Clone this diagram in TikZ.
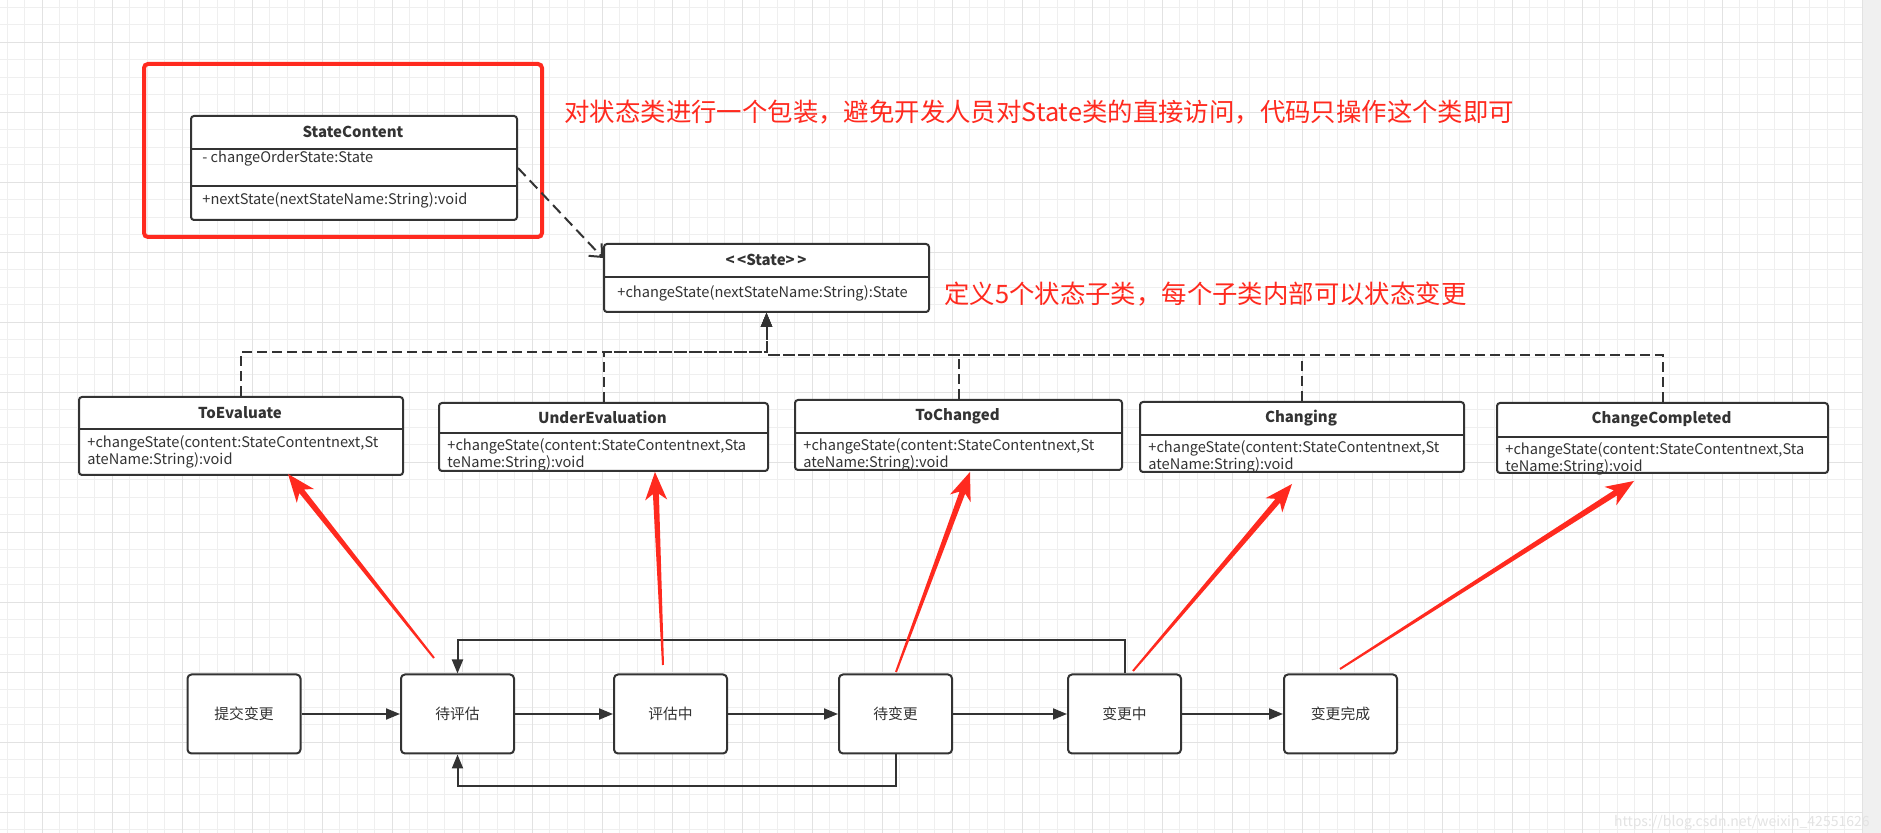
\documentclass[tikz,border=0pt]{standalone}
\usepackage{fontspec}
\setmainfont{Noto Sans CJK SC}
\usetikzlibrary{arrows.meta,calc}
\definecolor{inkgray}{HTML}{333333}
\definecolor{markred}{HTML}{FF2A1F}
\definecolor{gridminor}{HTML}{EFEFEF}
\definecolor{gridmajor}{HTML}{E2E2E2}
\definecolor{edgegray}{HTML}{F0F0F0}
\tikzset{
  classbox/.style={draw=inkgray, line width=1pt, rounded corners=1.5pt, fill=white, inner sep=0pt, anchor=north west},
  classname/.style={font=\fontsize{7.5}{9}\selectfont\bfseries, text=inkgray, inner sep=0pt},
  member/.style={font=\fontsize{7.3}{8.6}\selectfont, text=inkgray, inner sep=0pt, anchor=north west, align=left},
  rule/.style={draw=inkgray, line width=1pt},
  statebox/.style={draw=inkgray, line width=1pt, rounded corners=2pt, fill=white, minimum width=56.5pt, minimum height=39.5pt, inner sep=0pt, font=\fontsize{7.4}{9}\selectfont, text=inkgray},
  flow/.style={draw=inkgray, line width=1pt, -{Triangle[length=7pt,width=5.5pt]}},
  realize/.style={draw=inkgray, line width=1pt, dash pattern=on 5pt off 2.5pt, -{Triangle[length=7pt,width=5.5pt]}},
  depend/.style={draw=inkgray, line width=1pt, dash pattern=on 5.5pt off 3pt, -{Straight Barb[length=5pt,width=9pt]}},
  note/.style={font=\fontsize{12.7}{15}\selectfont, text=markred, inner sep=0pt, anchor=west},
}
% tapered red pointer from #1 (tail) to #2 (tip)
\newcommand\hintarrow[2]{%
  \coordinate (hN) at ($(#2)!11pt!(#1)$);
  \coordinate (hB) at ($(#2)!14pt!(#1)$);
  \fill[markred] ($(#1)!0.5pt!90:(#2)$) -- ($(hN)!1.5pt!90:(#2)$) -- ($(hB)!5.5pt!90:(#2)$)
    -- (#2) -- ($(hB)!5.5pt!-90:(#2)$) -- ($(hN)!1.5pt!-90:(#2)$) -- ($(#1)!0.5pt!-90:(#2)$) -- cycle;
}
\begin{document}
\begin{tikzpicture}[x=0.5pt,y=-0.5pt]
\useasboundingbox (0,0) rectangle (1881,833);
\fill[white] (0,0) rectangle (1862,833);
\fill[edgegray] (1862,0) rectangle (1881,833);
\foreach \i in {0,...,106} \draw[gridminor, line width=0.5pt] ({7.3+17.5*\i},0) -- ({7.3+17.5*\i},833);
\foreach \i in {0,...,47} \draw[gridminor, line width=0.5pt] (0,{7.3+17.5*\i}) -- (1862,{7.3+17.5*\i});
\foreach \i in {0,...,26} \draw[gridmajor, line width=0.6pt] ({42.3+70*\i},0) -- ({42.3+70*\i},833);
\foreach \i in {0,...,11} \draw[gridmajor, line width=0.6pt] (0,{42.3+70*\i}) -- (1862,{42.3+70*\i});

% wrapper class
\draw[markred, line width=2pt, rounded corners=2pt] (144,64) rectangle (542,237);
\node[classbox, minimum width=163pt, minimum height=52pt] (stcontent) at (190,115) {};
\node[classname] (stcontentT) at (353,132) {StateContent};
\draw[rule] ($(stcontent.north west)+(0,34)$) -- ($(stcontent.north east)+(0,34)$);
\draw[rule] ($(stcontent.north west)+(0,71)$) -- ($(stcontent.north east)+(0,71)$);
\node[member] (stcontentA) at (202,150) {- changeOrderState:State};
\node[member] (stcontentM) at (202,192) {+nextState(nextStateName:String):void};

\node[classbox, minimum width=162.5pt, minimum height=34pt] (state) at (603,243) {};
\node[classname] (stateT) at (766,260) {<\,<State>\,>};
\draw[rule] ($(state.north west)+(0,34)$) -- ($(state.north east)+(0,34)$);
\node[member] (stateM) at (617,285) {+changeState(nextStateName:String):State};

\node[note] (note1) at (564,112) {对状态类进行一个包装，避免开发人员对State类的直接访问，代码只操作这个类即可};
\node[note] (note2) at (944,294) {定义5个状态子类，每个子类内部可以状态变更};

% subclasses
\node[classbox, minimum width=162pt, minimum height=39pt] (toeval) at (78,396) {};
\node[classname] (toevalT) at (240,413) {ToEvaluate};
\draw[rule] ($(toeval.north west)+(0,33)$) -- ($(toeval.north east)+(0,33)$);
\node[member] (toevalM) at (87,435) {+changeState(content:StateContentnext,St\\ateName:String):void};

\node[classbox, minimum width=164.5pt, minimum height=34pt] (undereval) at (438,402) {};
\node[classname] (underevalT) at (602.5,417) {UnderEvaluation};
\draw[rule] ($(undereval.north west)+(0,31)$) -- ($(undereval.north east)+(0,31)$);
\node[member] (underevalM) at (447,438) {+changeState(content:StateContentnext,Sta\\teName:String):void};

\node[classbox, minimum width=163.5pt, minimum height=35pt] (tochanged) at (794,399) {};
\node[classname] (tochangedT) at (957.5,416) {ToChanged};
\draw[rule] ($(tochanged.north west)+(0,34)$) -- ($(tochanged.north east)+(0,34)$);
\node[member] (tochangedM) at (803,438) {+changeState(content:StateContentnext,St\\ateName:String):void};

\node[classbox, minimum width=162pt, minimum height=35pt] (changing) at (1139,401) {};
\node[classname] (changingT) at (1301,418) {Changing};
\draw[rule] ($(changing.north west)+(0,34)$) -- ($(changing.north east)+(0,34)$);
\node[member] (changingM) at (1148,440) {+changeState(content:StateContentnext,St\\ateName:String):void};

\node[classbox, minimum width=165.5pt, minimum height=35pt] (completed) at (1496,402) {};
\node[classname] (completedT) at (1661.5,419) {ChangeCompleted};
\draw[rule] ($(completed.north west)+(0,35)$) -- ($(completed.north east)+(0,35)$);
\node[member] (completedM) at (1505,442) {+changeState(content:StateContentnext,Sta\\teName:String):void};

\draw[depend] (stcontent.east) -- ($(state.north west)+(0,15)$);
\draw[realize] (toeval.north) -- ++(0,-44) -| (state.south);
\draw[realize] (undereval.north) -- ++(0,-50) -| (state.south);
\draw[realize] (tochanged.north) -- ++(0,-44) -| (state.south);
\draw[realize] (changing.north) -- ++(0,-46) -| (state.south);
\draw[realize] (completed.north) -- ++(0,-47) -| (state.south);

% workflow
\node[statebox] (tijiao) at (244,714) {提交变更};
\node[statebox] (daipinggu) at (457.5,714) {待评估};
\node[statebox] (pingguzhong) at (670.5,714) {评估中};
\node[statebox] (daibiangeng) at (895.5,714) {待变更};
\node[statebox] (biangengzhong) at (1124.5,714) {变更中};
\node[statebox] (wancheng) at (1340.5,714) {变更完成};
\draw[flow] (tijiao.east) -- (daipinggu.west);
\draw[flow] (daipinggu.east) -- (pingguzhong.west);
\draw[flow] (pingguzhong.east) -- (daibiangeng.west);
\draw[flow] (daibiangeng.east) -- (biangengzhong.west);
\draw[flow] (biangengzhong.east) -- (wancheng.west);
\draw[flow] (biangengzhong.north) -- ++(0,-33) -| (daipinggu.north);
\draw[flow] (daibiangeng.south) -- ++(0,32) -| (daipinggu.south);

% red pointers
\coordinate (t1) at (434,658); \coordinate (h1) at (288,474);
\coordinate (t2) at (663,665); \coordinate (h2) at (655,472);
\coordinate (t3) at (896,672); \coordinate (h3) at (970,472);
\coordinate (t4) at (1133,671); \coordinate (h4) at (1292,484);
\coordinate (t5) at (1340,669); \coordinate (h5) at (1634,481);
\hintarrow{t1}{h1}
\hintarrow{t2}{h2}
\hintarrow{t3}{h3}
\hintarrow{t4}{h4}
\hintarrow{t5}{h5}

\node[font=\fontsize{7}{8}\selectfont, text=gray!22, inner sep=0pt, anchor=east] (mark) at (1870,823) {https://blog.csdn.net/weixin\_42551626};
\end{tikzpicture}
\end{document}
